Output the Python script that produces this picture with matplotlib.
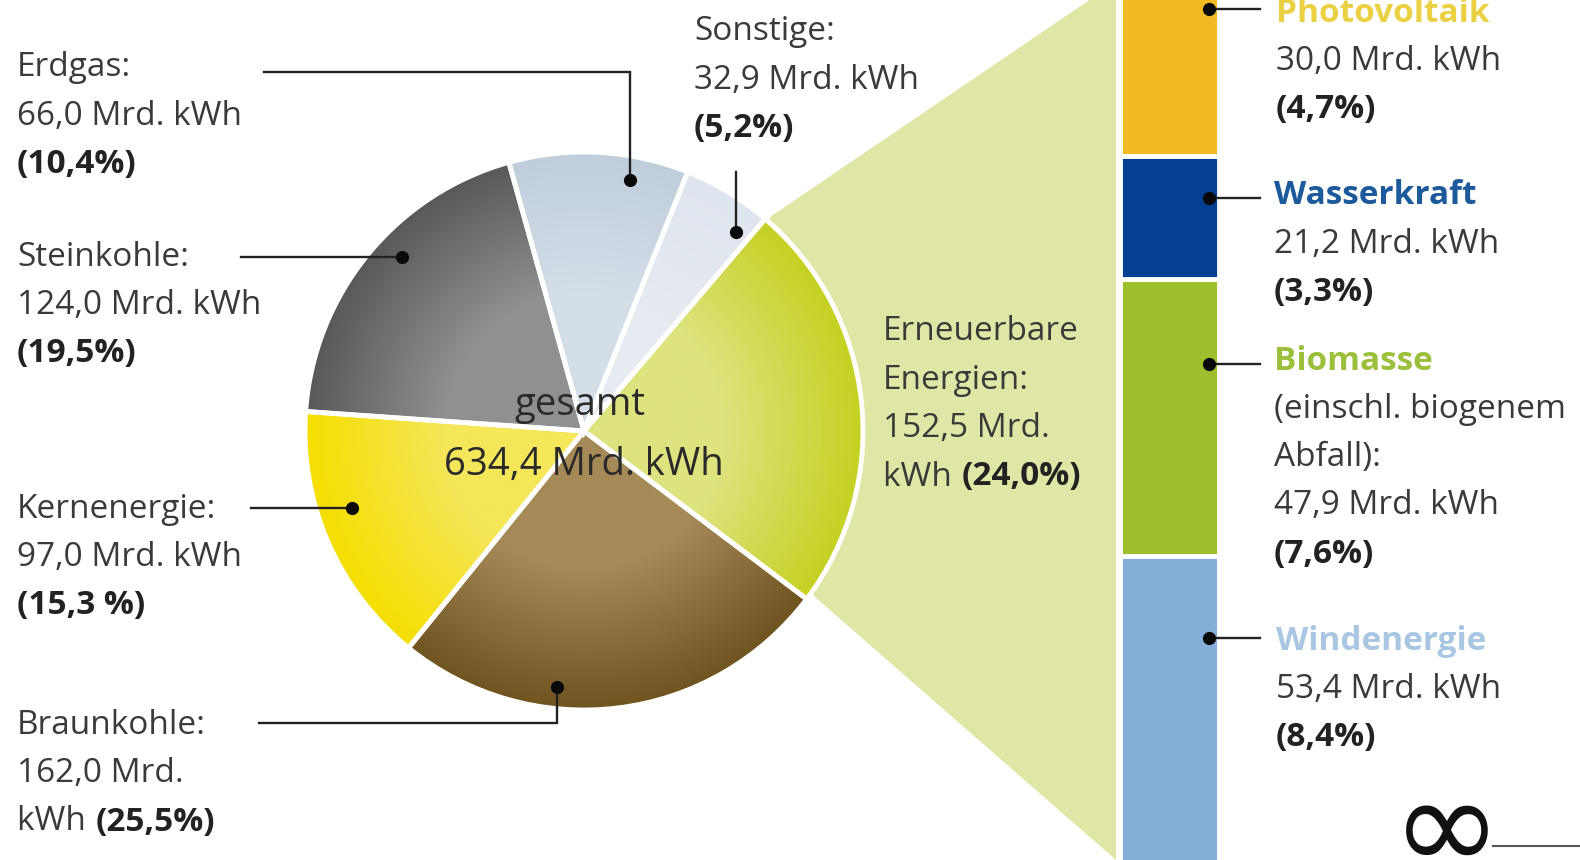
import numpy as np
import matplotlib
matplotlib.use("Agg")
import matplotlib.pyplot as plt
from matplotlib.colors import LinearSegmentedColormap
from matplotlib.patches import Polygon

# ---- data ----
pie_labels = ["Erneuerbare Energien", "Braunkohle", "Kernenergie", "Steinkohle", "Erdgas", "Sonstige"]
pie_values = [152.5, 162.0, 97.0, 124.0, 66.0, 32.9]
pie_inner = ["#dde37e", "#a58a58", "#f5e65a", "#8f9092", "#d3dee8", "#e6ebf2"]
pie_outer = ["#c5d122", "#6f5420", "#f5de00", "#58595b", "#c0cedc", "#dfe5ee"]

bar_labels = ["Windenergie", "Biomasse", "Wasserkraft", "Photovoltaik"]
bar_values = [53.4, 47.9, 21.2, 30.0]
bar_colors = ["#84afd9", "#9cbf2b", "#033f93", "#f3b923"]
total_text = ["gesamt", "634,4 Mrd. kWh"]

W, H = 1580, 860
plt.rcParams["font.family"] = ["Open Sans", "DejaVu Sans"]
TXT = "#3a3a3a"
FS = 24
fig = plt.figure(figsize=(W / 100, H / 100), dpi=100, facecolor="white")

def px_axes(x0, y0, x1, y1, **kw):
    return fig.add_axes([x0 / W, 1 - y1 / H, (x1 - x0) / W, (y1 - y0) / H], **kw)

# backdrop in pixel coordinates, for the zoom funnel
back = px_axes(0, 0, W, H)
back.set_xlim(0, W); back.set_ylim(H, 0); back.axis("off"); back.set_zorder(0)
back.add_patch(Polygon([(770, 217), (1116, -18), (1116, 860), (815, 597), (700, 430)],
                       closed=True, fc="#e0e6a6", ec="none"))

# pie
cx, cy, R = 584, 431, 279
pie_ax = px_axes(cx - R, cy - R, cx + R, cy + R)
pie_ax.set_zorder(1)
wedges, _ = pie_ax.pie(pie_values, startangle=49.5, counterclock=False, radius=1,
                       wedgeprops=dict(edgecolor="white", linewidth=3.5))
yy, xx = np.mgrid[-1.05:1.05:500j, -1.05:1.05:500j]
rr = np.hypot(xx, yy)
for w, a, b in zip(wedges, pie_inner, pie_outer):
    cmap = LinearSegmentedColormap.from_list("w", [a, a, b])
    im = pie_ax.imshow(rr, extent=(-1.05, 1.05, -1.05, 1.05), origin="lower", cmap=cmap,
                       vmin=0, vmax=1, zorder=w.get_zorder() - 0.5, aspect="equal")
    im.set_clip_path(w)
    w.set_facecolor("none")
    w.set_zorder(3)
pie_ax.set_xlim(-1.0, 1.0); pie_ax.set_ylim(-1.0, 1.0)

# stacked bar (runs past the figure's top and bottom)
bar_ax = px_axes(1119.5, -18, 1218.5, 866)
bar_ax.set_zorder(1)
bottom = 0
for v, c in zip(bar_values, bar_colors):
    bar_ax.bar(0, v, bottom=bottom, width=1, color=c, edgecolor="white", linewidth=3.5)
    bottom += v
bar_ax.set_xlim(-0.5, 0.5); bar_ax.set_ylim(0, bottom); bar_ax.axis("off")

# overlay
top = px_axes(0, 0, W, H)
top.set_xlim(0, W); top.set_ylim(H, 0); top.axis("off"); top.set_zorder(5); top.patch.set_alpha(0)

def callout(pts):
    xs, ys = zip(*pts)
    top.plot(xs, ys, color="#222222", lw=1.7, solid_joinstyle="miter", clip_on=False)
    top.plot(xs[-1], ys[-1], "o", color="#0a0a0a", ms=9.5, mew=0)

callout([(264, 72), (630, 72), (630, 180)])
callout([(241, 257), (402, 257)])
callout([(251, 508), (352, 508)])
callout([(259, 723), (557, 723), (557, 687)])
callout([(736, 172), (736, 232)])
callout([(1260, 9), (1209, 9)])
callout([(1260, 198), (1209, 198)])
callout([(1260, 364), (1209, 364)])
callout([(1260, 638), (1209, 638)])

def block(x, y, lines):
    for i, (s, bold, col) in enumerate(lines):
        top.text(x, y + i * 48.3, s, fontsize=FS, color=col, va="center", ha="left",
                 fontweight="bold" if bold else "normal")

DK = "#222222"
block(17, 68, [("Erdgas:", 0, TXT), ("66,0 Mrd. kWh", 0, TXT), ("(10,4%)", 1, DK)])
block(17, 257, [("Steinkohle:", 0, TXT), ("124,0 Mrd. kWh", 0, TXT), ("(19,5%)", 1, DK)])
block(17, 509, [("Kernenergie:", 0, TXT), ("97,0 Mrd. kWh", 0, TXT), ("(15,3 %)", 1, DK)])
block(17, 725, [("Braunkohle:", 0, TXT), ("162,0 Mrd.", 0, TXT)])
top.text(17, 822, "kWh ", fontsize=FS, color=TXT, va="center")
top.text(96, 822, "(25,5%)", fontsize=FS, color=DK, va="center", fontweight="bold")
block(694, 32, [("Sonstige:", 0, TXT), ("32,9 Mrd. kWh", 0, TXT), ("(5,2%)", 1, DK)])
block(883, 332, [("Erneuerbare", 0, TXT), ("Energien:", 0, TXT), ("152,5 Mrd.", 0, TXT)])
top.text(883, 477, "kWh ", fontsize=FS, color=TXT, va="center")
top.text(962, 477, "(24,0%)", fontsize=FS, color=DK, va="center", fontweight="bold")

block(1276, 13, [(bar_labels[3], 1, "#ecd044"), ("30,0 Mrd. kWh", 0, TXT), ("(4,7%)", 1, DK)])
block(1274, 196, [(bar_labels[2], 1, "#1d5a9b"), ("21,2 Mrd. kWh", 0, TXT), ("(3,3%)", 1, DK)])
block(1274, 361, [(bar_labels[1], 1, "#9cc03c"), ("(einschl. biogenem", 0, TXT), ("Abfall):", 0, TXT),
                  ("47,9 Mrd. kWh", 0, TXT), ("(7,6%)", 1, DK)])
block(1276, 641, [(bar_labels[0], 1, "#a9c7e3"), ("53,4 Mrd. kWh", 0, TXT), ("(8,4%)", 1, DK)])

top.text(580, 405, total_text[0], fontsize=27.5, color="#2a2a2a", ha="center", va="center")
top.text(584, 465, total_text[1], fontsize=27.5, color="#2a2a2a", ha="center", va="center")

top.text(1447, 833, "∞", fontsize=95, color="#111111", ha="center", va="center", family=["DejaVu Sans"])
top.plot([1493, 1580], [846, 846], color="#555555", lw=1.5)

fig.savefig("out.png", dpi=100, facecolor="white")
